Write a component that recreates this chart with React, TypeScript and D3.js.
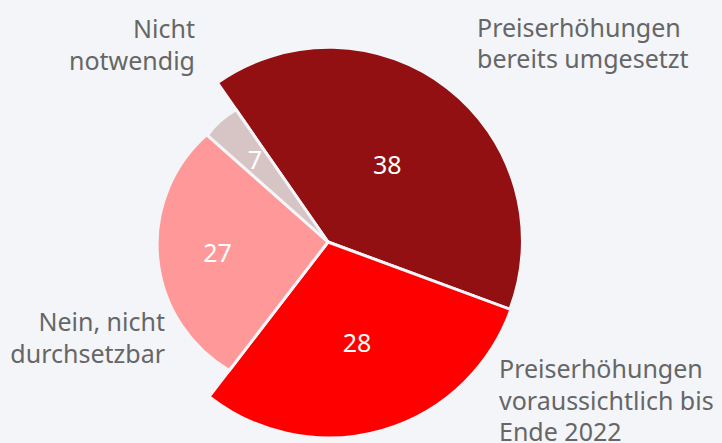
import React from "react";
import * as d3 from "d3";

// ---- data ----
const categories = [
  "Preiserhöhungen bereits umgesetzt",
  "Preiserhöhungen voraussichtlich bis Ende 2022",
  "Nein, nicht durchsetzbar",
  "Nicht notwendig",
];
const values = [38, 28, 27, 7];
// angular share of each slice as drawn in the reference
const angleShares = [40.3, 29.8, 26.1, 3.8];
const labelLines = [
  ["Preiserhöhungen", "bereits umgesetzt"],
  ["Preiserhöhungen", "voraussichtlich bis", "Ende 2022"],
  ["Nein, nicht", "durchsetzbar"],
  ["Nicht", "notwendig"],
];

// ---- style ----
const W = 722;
const H = 443;
const BG = "#f3f5f9";
const COLORS = ["#920f12", "#ff0000", "#ff9999", "#d7c5c5"];
const CORNER_R = [194, 195, 162, 161];
const MID_R = [195, 196, 171, 162];
const LABEL_R = [97, 105, 111, 110];
const CX = 328;
const CY = 242;
const FONT = "'Noto Sans', 'Open Sans', sans-serif";
const TEXT_COLOR = "#666666";

// external label anchors
const EXT = [
  { x: 477, y: 36.5, anchor: "start" },
  { x: 499, y: 378, anchor: "start" },
  { x: 165, y: 331, anchor: "end" },
  { x: 195, y: 38, anchor: "end" },
];
const LINE_H = 31.5;

function slicePath(a0: number, a1: number, rc: number, rm: number) {
  const p0 = [Math.sin(a0) * rc, -Math.cos(a0) * rc];
  const p1 = [Math.sin(a1) * rc, -Math.cos(a1) * rc];
  const h = (a1 - a0) / 2;
  const c = Math.hypot(p1[0] - p0[0], p1[1] - p0[1]);
  const s = rm - rc * Math.cos(h);
  const R = (c * c) / 4 / (2 * s) + s / 2;
  const large = a1 - a0 > Math.PI ? 1 : 0;
  const p = d3.path();
  p.moveTo(0, 0);
  p.lineTo(p0[0], p0[1]);
  return (
    p.toString() +
    `A${R},${R},0,${large},1,${p1[0]},${p1[1]}Z`
  );
}

export default function App() {
  const start = (-34.8 * Math.PI) / 180;
  const pie = d3
    .pie<number>()
    .sort(null)
    .value((d) => d)
    .startAngle(start)
    .endAngle(start + 2 * Math.PI);
  const arcs = pie(angleShares);

  return (
    <svg
      width={W}
      height={H}
      style={{ position: "fixed", left: 0, top: 0, background: BG }}
    >
      <rect width={W} height={H} fill={BG} />
      <g transform={`translate(${CX},${CY})`}>
        {arcs.map((a, i) => (
          <path
            key={categories[i]}
            d={slicePath(a.startAngle, a.endAngle, CORNER_R[i], MID_R[i])}
            fill={COLORS[i]}
            stroke={BG}
            strokeWidth={3}
            strokeLinejoin="miter"
          />
        ))}
        {arcs.map((a, i) => {
          const m = (a.startAngle + a.endAngle) / 2;
          return (
            <text
              key={"v" + i}
              x={Math.sin(m) * LABEL_R[i]}
              y={-Math.cos(m) * LABEL_R[i]}
              dy="0.36em"
              textAnchor="middle"
              fill="#ffffff"
              fontFamily={FONT}
              fontSize={25}
            >
              {values[i]}
            </text>
          );
        })}
      </g>
      {labelLines.map((lines, i) => (
        <text
          key={"l" + i}
          fontFamily={FONT}
          fontSize={25}
          fill={TEXT_COLOR}
          textAnchor={EXT[i].anchor as any}
        >
          {lines.map((ln, j) => (
            <tspan key={j} x={EXT[i].x} y={EXT[i].y + j * LINE_H}>
              {ln}
            </tspan>
          ))}
        </text>
      ))}
    </svg>
  );
}
